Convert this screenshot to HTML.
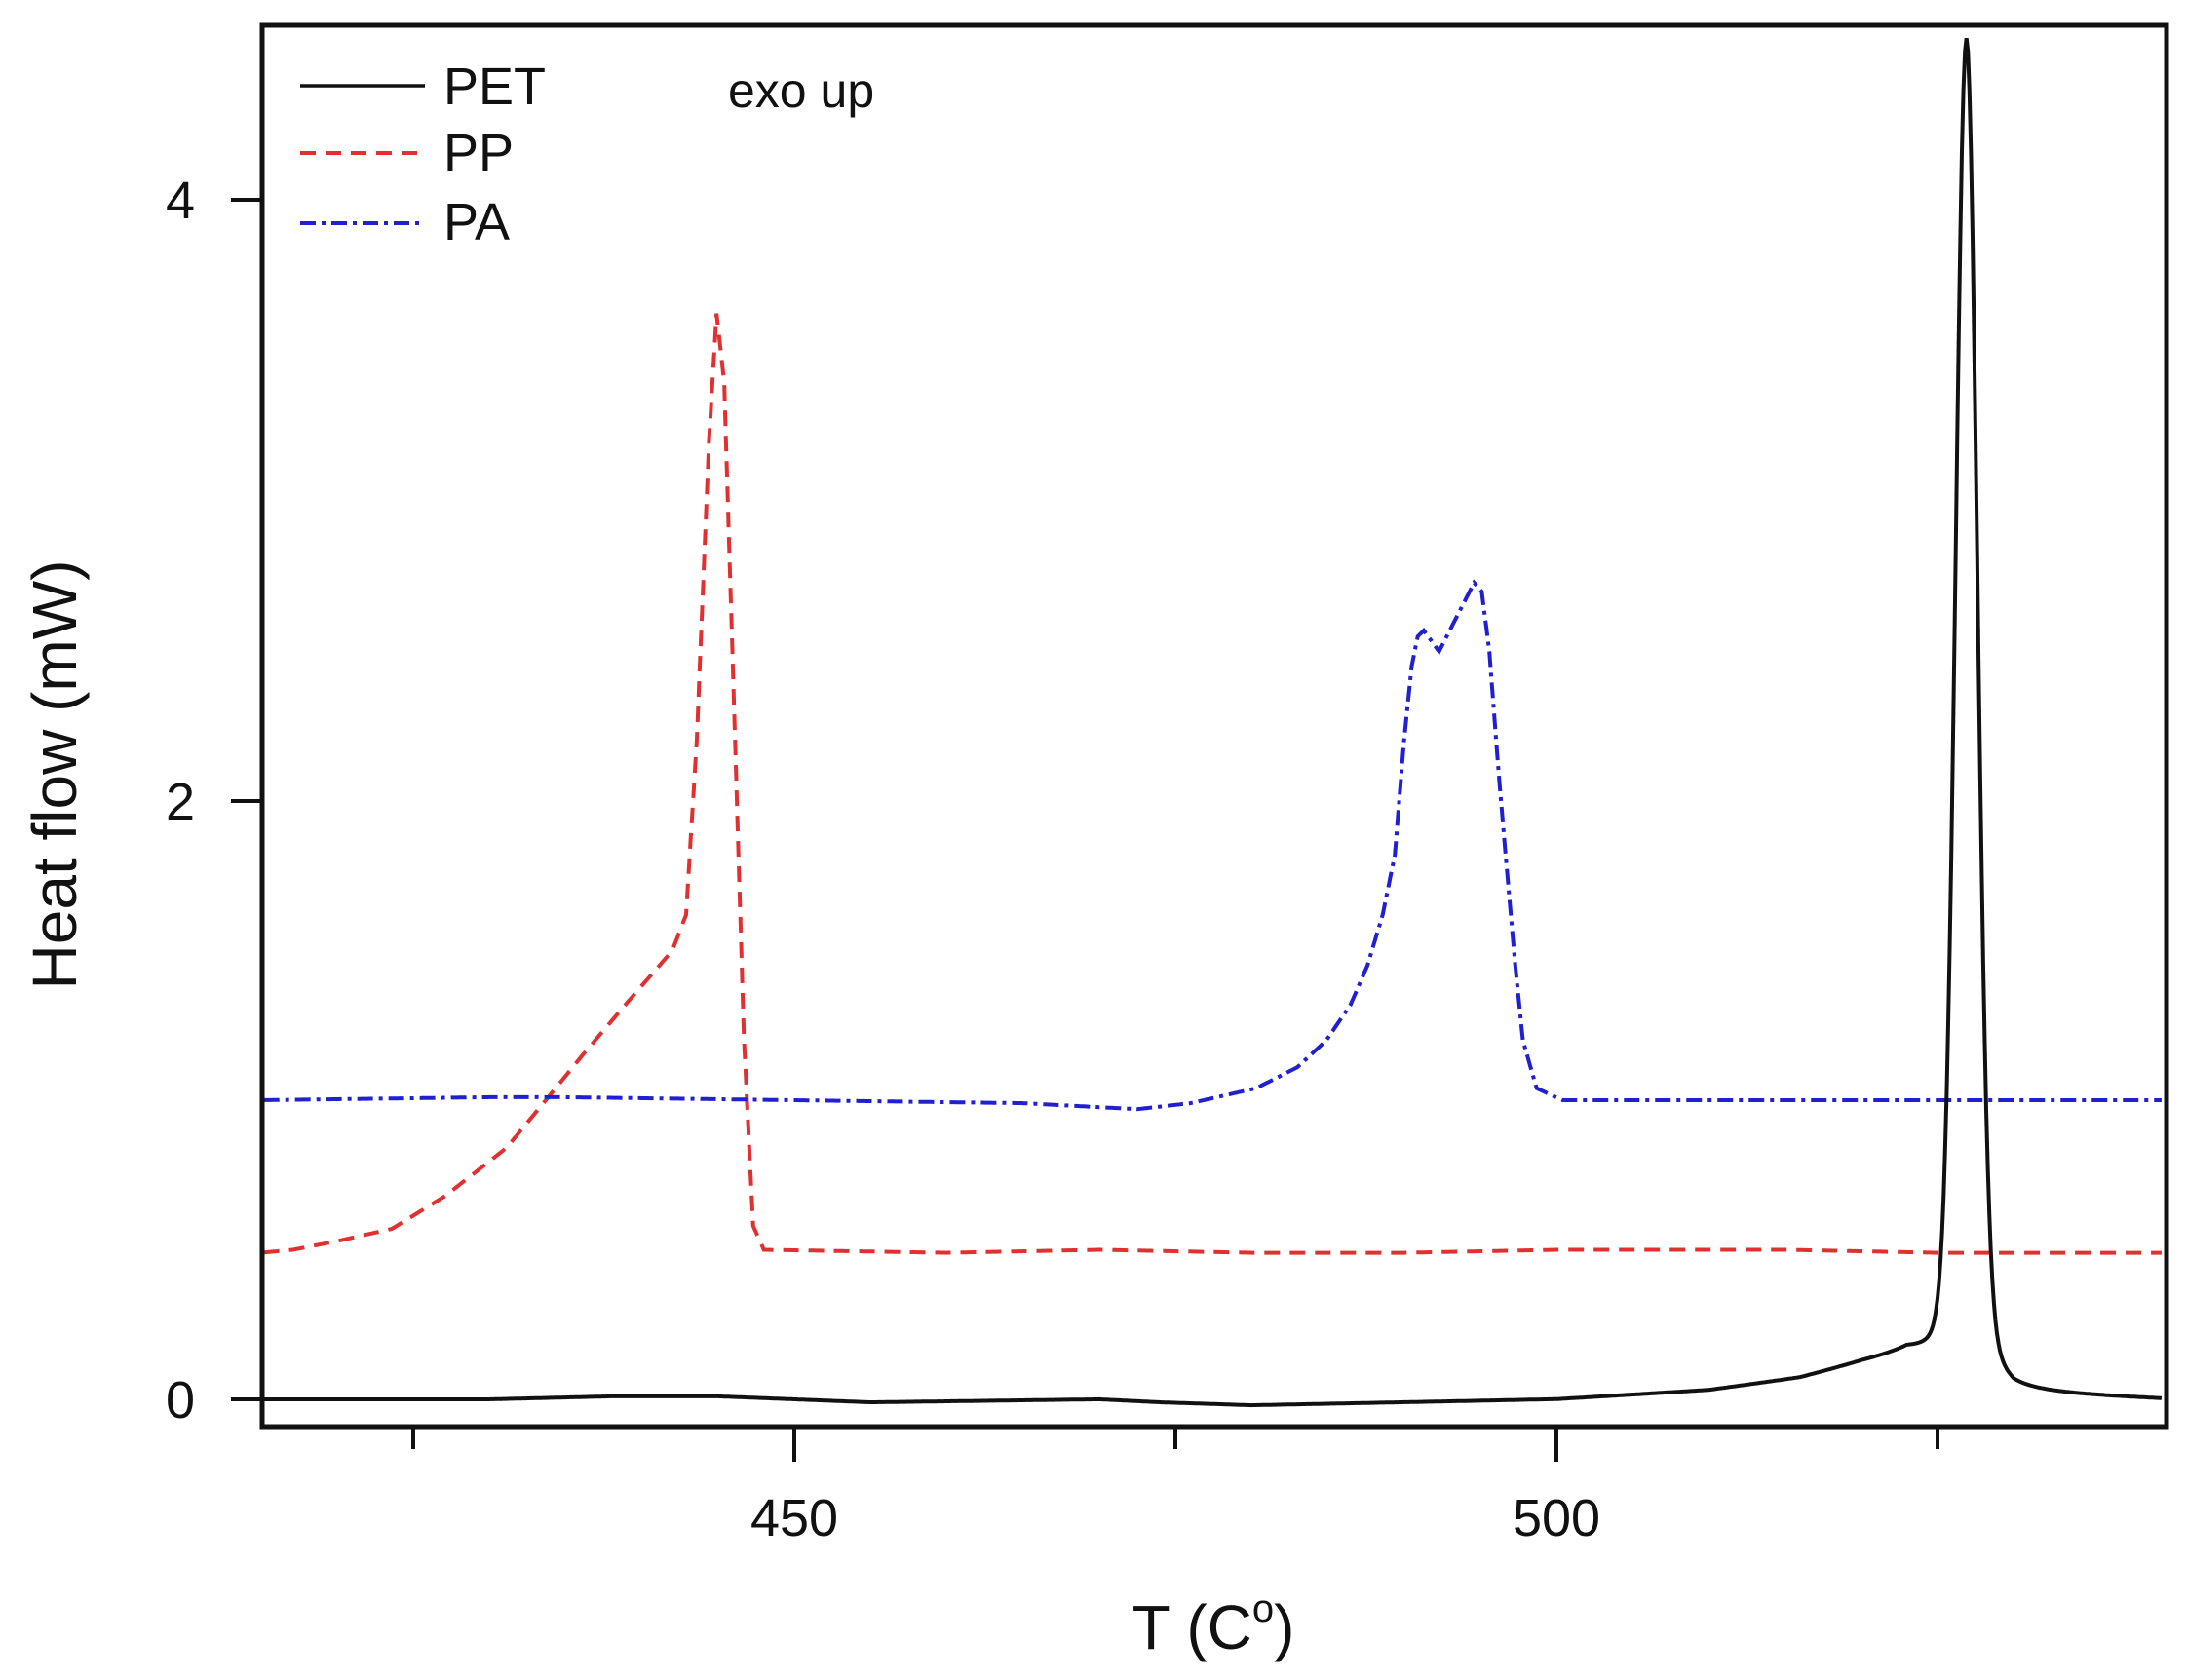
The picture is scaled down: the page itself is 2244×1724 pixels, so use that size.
<!DOCTYPE html>
<html><head><meta charset="utf-8"><style>
html,body{margin:0;padding:0;background:#fff;}
svg{display:block;font-family:"Liberation Sans",Arial,sans-serif;}
</style></head><body>
<svg id="s" width="2244" height="1724" viewBox="0 0 2244 1724" xmlns="http://www.w3.org/2000/svg">
<rect width="2244" height="1724" fill="#fff"/>
<g id="curves"></g>
<rect x="269" y="26" width="1954" height="1438" fill="none" stroke="#111" stroke-width="5"/>
<g stroke="#111" stroke-width="4">
<line x1="424" y1="1464" x2="424" y2="1487"/>
<line x1="815" y1="1464" x2="815" y2="1500"/>
<line x1="1206" y1="1464" x2="1206" y2="1487"/>
<line x1="1597" y1="1464" x2="1597" y2="1500"/>
<line x1="1988" y1="1464" x2="1988" y2="1487"/>
<line x1="237" y1="1436" x2="269" y2="1436"/>
<line x1="237" y1="822" x2="269" y2="822"/>
<line x1="237" y1="205" x2="269" y2="205"/>
</g>
<g font-size="54" fill="#111">
<text x="815" y="1576" text-anchor="middle">450</text>
<text x="1597" y="1576" text-anchor="middle">500</text>
<text x="200" y="1455" text-anchor="end">0</text>
<text x="200" y="841" text-anchor="end">2</text>
<text x="200" y="224" text-anchor="end">4</text>
<text x="1245" y="1692" text-anchor="middle" font-size="64">T (C<tspan dy="-28" font-size="40">o</tspan><tspan dy="28">)</tspan></text>
<text transform="translate(78,795) rotate(-90)" text-anchor="middle" font-size="64">Heat flow (mW)</text>
<text x="455" y="107" font-size="54">PET</text>
<text x="455" y="175" font-size="54">PP</text>
<text x="455" y="246" font-size="54">PA</text>
<text x="747" y="110" font-size="50">exo up</text>
</g>
<line x1="308" y1="88" x2="436" y2="88" stroke="#111" stroke-width="3.5"/>
<line x1="308" y1="157" x2="436" y2="157" stroke="#e03030" stroke-width="4" stroke-dasharray="16 10"/>
<line x1="308" y1="229" x2="436" y2="229" stroke="#2020d0" stroke-width="4" stroke-dasharray="16 6 4 6"/>
</svg>
<script>
function X(T){return 815+(T-450)*15.64;}
function Y(v){return 1436-307*v;}
function interp(pts,T){for(var i=0;i<pts.length-1;i++){if(T>=pts[i][0]&&T<=pts[i+1][0]){var t=(T-pts[i][0])/(pts[i+1][0]-pts[i][0]);return pts[i][1]+t*(pts[i+1][1]-pts[i][1]);}}return pts[pts.length-1][1];}
function path(f,a,b){var d="";for(var T=a;T<=b;T+=0.1){d+=(d?"L":"M")+X(T).toFixed(1)+","+Y(f(T)).toFixed(1);}return d;}
var pet=function(T){var base=interp([[415,0],[430,0],[438,0.01],[445,0.01],[455,-0.01],[470,0],[474,-0.01],[480,-0.02],[490,-0.01],[500,0],[510,0.03],[516,0.07],[520,0.12],[523,0.15],[526.9,0.1],[530,0.02],[540,0]],T);
var dx=T-526.9;var g=4.0*Math.exp(-dx*dx/(2*0.7*0.7));var l=0.45/(1+Math.pow(dx/1.1,2));return base+g+l;};
var s=-0.9;
var ppPts=[[415,0.49],[418,0.5],[421,0.53],[424.5,0.57],[428,0.68],[432,0.84],[434.6,1.0],[437,1.15],[440,1.33],[442.9,1.5],[443.8,1.62],[444.5,2.2],[445.3,3.2],[445.8,3.63],[446.3,3.4],[446.9,2.4],[447.6,1.2],[448.2,0.58],[448.9,0.5]].map(function(p){return [p[0]===415?415:p[0]+s,p[1]];});
ppPts=ppPts.concat([[460,0.49],[470,0.5],[480,0.49],[490,0.49],[500,0.5],[515,0.5],[525,0.49],[540,0.49]]);
var pp=function(T){return interp(ppPts,T);};
var pa=function(T){return interp([[415,1.0],[430,1.01],[435,1.01],[450,1.0],[465,0.99],[472.5,0.97],[476,0.99],[480.3,1.04],[483,1.11],[484.9,1.2],[486.5,1.32],[487.6,1.45],[488.6,1.62],[489.4,1.82],[490.0,2.2],[490.5,2.45],[490.9,2.55],[491.3,2.57],[492.3,2.5],[493.5,2.62],[494.6,2.73],[495.1,2.7],[495.6,2.5],[496.2,2.1],[496.7,1.8],[497.3,1.45],[497.8,1.2],[498.7,1.04],[500.4,1.0],[520,1.0],[540,1.0]],T);};
var g=document.getElementById("curves");
g.innerHTML='<path d="'+path(pp,415.2,539.8)+'" fill="none" stroke="#e03030" stroke-width="4" stroke-dasharray="16 10"/>'+
'<path d="'+path(pa,415.2,539.8)+'" fill="none" stroke="#2020d0" stroke-width="4" stroke-dasharray="16 6 4 6"/>'+
'<path d="'+path(pet,415.2,539.8)+'" fill="none" stroke="#111" stroke-width="4"/>';
</script>
</body></html>
